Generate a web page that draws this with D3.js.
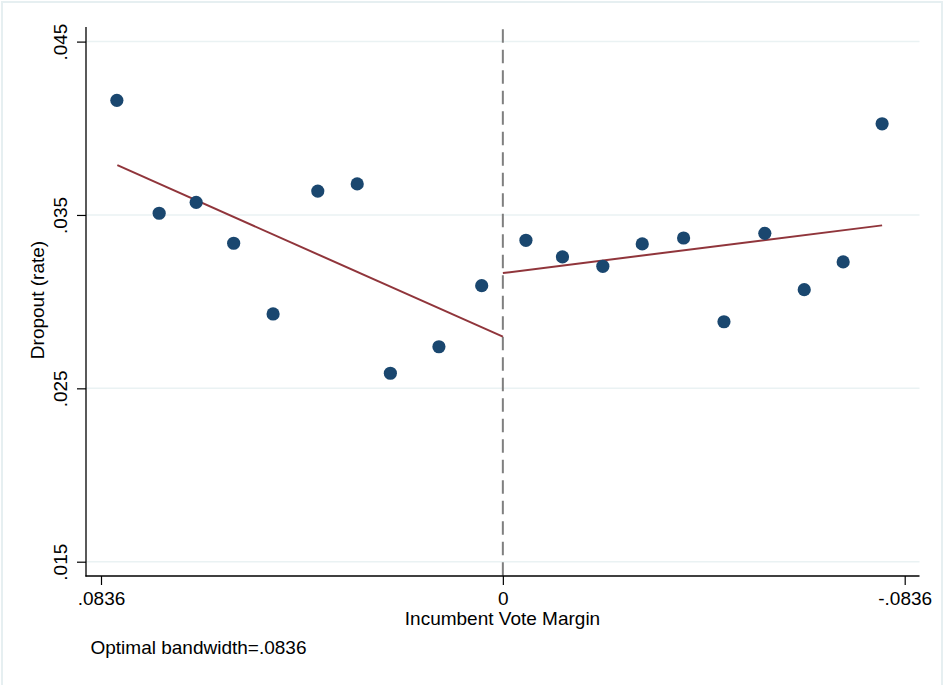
<!DOCTYPE html>
<html>
<head>
<meta charset="utf-8">
<script src="https://cdn.jsdelivr.net/npm/d3@7"></script>
<style>
  html, body { margin: 0; padding: 0; background: #fff; }
  svg { display: block; }
  text { font-family: "Liberation Sans", Arial, sans-serif; fill: #000; }
</style>
</head>
<body>
<svg id="chart" width="943" height="685"></svg>
<script>
// ---- data ----
const leftX  = [0.0803, 0.0715, 0.0638, 0.0560, 0.0478, 0.0385, 0.0303, 0.0234, 0.0133, 0.0044];
const leftY  = [0.04161, 0.03510, 0.03573, 0.03337, 0.02929, 0.03638, 0.03679, 0.02587, 0.02740, 0.03092];
const rightX = [-0.0048, -0.0124, -0.0208, -0.0290, -0.0376, -0.0460, -0.0545, -0.0627, -0.0708, -0.0789];
const rightY = [0.03354, 0.03258, 0.03204, 0.03333, 0.03367, 0.02884, 0.03394, 0.03069, 0.03229, 0.04026];
const fitLeftX  = [0.0802, 0];
const fitLeftY  = [0.03787, 0.02798];
const fitRightX = [0, -0.0789];
const fitRightY = [0.03165, 0.03440];
const yTicks = [0.015, 0.025, 0.035, 0.045];
const yTickLabels = [".015", ".025", ".035", ".045"];
const xTicks = [0.0836, 0, -0.0836];
const xTickLabels = [".0836", "0", "-.0836"];
const cutoff = 0;

// ---- layout ----
const svg = d3.select("#chart");
const plotLeft = 86, plotRight = 919.5, plotTop = 27, plotBottom = 576;
const x = d3.scaleLinear().domain([0.0836, -0.0836]).range([101, 904.7]);
const y = d3.scaleLinear().domain([0.015, 0.045]).range([561.7, 41.6]);

// outer frame
svg.append("rect").attr("x", 2).attr("y", 2).attr("width", 940).attr("height", 690)
  .attr("fill", "#fff").attr("stroke", "#e6eff1").attr("stroke-width", 2);

// gridlines
svg.append("g").selectAll("line").data(yTicks).join("line")
  .attr("x1", plotLeft).attr("x2", plotRight)
  .attr("y1", d => y(d)).attr("y2", d => y(d))
  .attr("stroke", "#eaf2f3").attr("stroke-width", 1.5);

// cutoff dashed line
svg.append("line")
  .attr("x1", x(cutoff)).attr("x2", x(cutoff))
  .attr("y1", plotTop + 2.3).attr("y2", plotBottom)
  .attr("stroke", "#7f7f7f").attr("stroke-width", 2)
  .attr("stroke-dasharray", "13.5,7");

// y axis
const yAxis = d3.axisLeft(y).tickValues(yTicks).tickFormat((d, i) => yTickLabels[i]).tickSize(9).tickPadding(0);
const gy = svg.append("g").attr("transform", `translate(${plotLeft},0)`).call(yAxis);
gy.select(".domain").remove();
gy.selectAll(".tick line").attr("stroke", "#000").attr("stroke-width", 1.2);
gy.selectAll(".tick text")
  .attr("x", 0).attr("dy", null).attr("y", 0)
  .attr("text-anchor", "middle")
  .attr("transform", "translate(-19.5,0) rotate(-90)")
  .style("font-size", "19px")
  .style("font-family", "'Liberation Sans', Arial, sans-serif");
svg.append("line").attr("x1", plotLeft).attr("x2", plotLeft)
  .attr("y1", plotTop).attr("y2", plotBottom + 0.6)
  .attr("stroke", "#000").attr("stroke-width", 1.3);

// x axis
const xAxis = d3.axisBottom(x).tickValues(xTicks).tickFormat((d, i) => xTickLabels[i]).tickSize(9).tickPadding(0);
const gx = svg.append("g").attr("transform", `translate(0,${plotBottom})`).call(xAxis);
gx.select(".domain").remove();
gx.selectAll(".tick line").attr("stroke", "#000").attr("stroke-width", 1.2);
gx.selectAll(".tick text")
  .attr("y", 29).attr("dy", null)
  .style("font-size", "19px")
  .style("font-family", "'Liberation Sans', Arial, sans-serif");
svg.append("line").attr("x1", plotLeft - 0.6).attr("x2", plotRight)
  .attr("y1", plotBottom).attr("y2", plotBottom)
  .attr("stroke", "#000").attr("stroke-width", 1.3);

// fit lines
const line = d3.line().x(d => x(d[0])).y(d => y(d[1]));
svg.append("path").datum(fitLeftX.map((d, i) => [d, fitLeftY[i]]))
  .attr("d", line).attr("fill", "none").attr("stroke", "#90353b").attr("stroke-width", 2);
svg.append("path").datum(fitRightX.map((d, i) => [d, fitRightY[i]]))
  .attr("d", line).attr("fill", "none").attr("stroke", "#90353b").attr("stroke-width", 2);

// points
const pts = leftX.map((d, i) => [d, leftY[i]]).concat(rightX.map((d, i) => [d, rightY[i]]));
svg.append("g").selectAll("circle").data(pts).join("circle")
  .attr("cx", d => x(d[0])).attr("cy", d => y(d[1])).attr("r", 6.6)
  .attr("fill", "#1a476f");

// titles
svg.append("text").attr("x", 502.5).attr("y", 625).attr("text-anchor", "middle")
  .style("font-size", "19px").text("Incumbent Vote Margin");
svg.append("text").attr("transform", "translate(44,300) rotate(-90)").attr("text-anchor", "middle")
  .style("font-size", "19px").text("Dropout (rate)");
svg.append("text").attr("x", 90.5).attr("y", 653.5)
  .style("font-size", "19px").text("Optimal bandwidth=.0836");
</script>
</body>
</html>
